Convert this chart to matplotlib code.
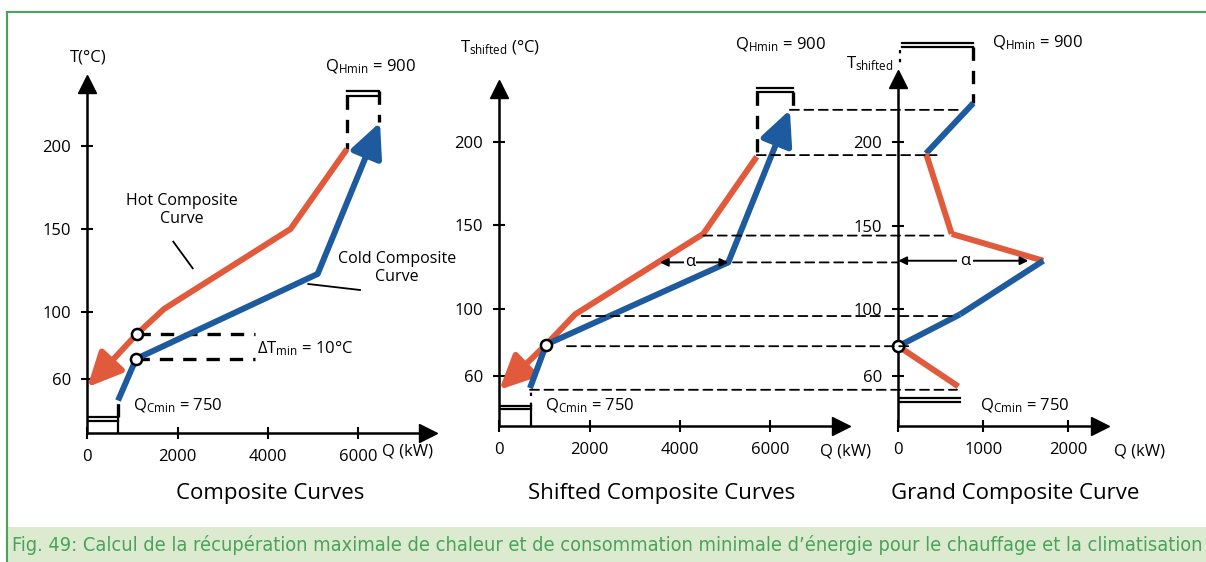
import matplotlib
matplotlib.use('Agg')
import matplotlib.pyplot as plt
from matplotlib import font_manager
from matplotlib.patches import ConnectionPatch, Rectangle
from matplotlib.lines import Line2D

plt.rcParams['font.family'] = ['Open Sans', 'DejaVu Sans']
plt.rcParams['mathtext.fontset'] = 'custom'
plt.rcParams['mathtext.rm'] = 'Open Sans'
plt.rcParams['mathtext.it'] = 'Open Sans:italic'
plt.rcParams['mathtext.bf'] = 'Open Sans:bold'

RED = '#e05a3b'
BLUE = '#1d5b9e'
GREEN = '#4aa35a'

# ---------------- data ----------------
# Panel 1: composite curves (Q in kW, T in degC)
hot_Q = [0, 1100, 1700, 4500, 5750]
hot_T = [55, 87, 102, 150, 198]
cold_Q = [680, 1080, 5100, 6480]
cold_T = [47, 72, 123, 214]
p1_xticks = [0, 2000, 4000, 6000]
p1_yticks = [60, 100, 150, 200]

# Panel 2: shifted composite curves
shot_Q = [0, 1040, 1680, 4520, 5705]
shot_T = [52, 79, 97, 145, 191]
scold_Q = [680, 1040, 5075, 6440]
scold_T = [53, 79, 128, 219]
p2_xticks = [0, 2000, 4000, 6000]
p2_yticks = [60, 100, 150, 200]

# Panel 3: grand composite curve
gcc_Q = [882, 326, 628, 1706, 726, 0, 706]
gcc_T = [223, 193, 145, 129, 97, 78, 54]
gcc_seg_colors = [BLUE, RED, RED, BLUE, BLUE, RED]
p3_xticks = [0, 1000, 2000]
p3_yticks = [60, 100, 150, 200]

# temperature interval lines (shifted T), start Q in panel 2, end Q in panel 3
lev_T = [219, 192, 144, 128, 96, 78, 52]
lev_Q2 = [6440, 5705, 4521, 5180, 1826, 1500, 680]
lev_Q3 = [700, 450, 590, 0, 640, 170, 690]

QHmin = 900
QCmin = 750
dTmin = 10

CAPTION = ("Fig. 49: Calcul de la récupération maximale de chaleur et de consommation minimale "
           "d’énergie pour le chauffage et la climatisation")

# ---------------- figure ----------------
W, H = 1206, 562
fig = plt.figure(figsize=(W / 100, H / 100), dpi=100)
fig.patch.set_facecolor('white')


def fx(x):
    return x / W


def fy(y):
    return 1 - y / H


def ftext(x, y, s, **kw):
    kw.setdefault('ha', 'center')
    kw.setdefault('va', 'center')
    return fig.text(fx(x), fy(y), s, **kw)


# frame and caption band
fig.add_artist(Line2D([fx(7), 1], [fy(12), fy(12)], color=GREEN, lw=1.5))
fig.add_artist(Line2D([fx(7), fx(7)], [fy(12), 0], color=GREEN, lw=1.5))
fig.add_artist(Rectangle((fx(8), 0), 1 - fx(8), fy(527), color='#dcebd0', lw=0))

# pick a condensed font for the caption if one is installed
cap_kw = dict(color=GREEN, ha='left', va='center')
fonts = font_manager.fontManager.ttflist
names = {f.name for f in fonts}
if 'Liberation Sans Narrow' in names:
    cap_kw['family'] = ['Liberation Sans Narrow', 'DejaVu Sans']
elif any(f.name == 'DejaVu Sans' and 'ondensed' in f.fname for f in fonts):
    cap_kw['family'] = ['DejaVu Sans']
    cap_kw['fontstretch'] = 'condensed'
else:
    cap_kw['family'] = ['Lato', 'DejaVu Sans']
cap = fig.text(fx(12), fy(545), CAPTION, fontsize=15, **cap_kw)
renderer = fig.canvas.get_renderer()
wpx = cap.get_window_extent(renderer).width
cap.set_fontsize(min(16.0, 15 * 1190 / wpx))


def make_ax(left, right, bottom, top, xlim, ylim, xticks, yticks):
    ax = fig.add_axes([fx(left), fy(bottom), (right - left) / W, (bottom - top) / H])
    ax.patch.set_visible(False)
    ax.set_xlim(*xlim)
    ax.set_ylim(*ylim)
    for s in ('top', 'right'):
        ax.spines[s].set_visible(False)
    for s in ('left', 'bottom'):
        ax.spines[s].set_linewidth(1.8)
    ax.set_xticks(xticks)
    ax.set_xticklabels([str(t) for t in xticks])
    ax.set_yticks(yticks)
    ax.set_yticklabels([str(t) for t in yticks])
    ax.tick_params(direction='inout', length=9, width=1.5, labelsize=12, pad=7)
    ax.plot(1, 0, '>', color='k', ms=13, transform=ax.transAxes, clip_on=False)
    ax.plot(0, 1, '^', color='k', ms=13, transform=ax.transAxes, clip_on=False)
    return ax


def curve(ax, Q, T, color):
    ax.plot(Q[:-1], T[:-1], color=color, lw=4.3, solid_joinstyle='miter', solid_capstyle='butt', zorder=3)
    ax.annotate('', xy=(Q[-1], T[-1]), xytext=(Q[-2], T[-2]),
                arrowprops=dict(arrowstyle='-|>,head_length=0.95,head_width=0.45', color=color,
                                lw=4.3, mutation_scale=22, shrinkA=0, shrinkB=0), zorder=3)


def circle(ax, q, t):
    ax.plot(q, t, 'o', mfc='white', mec='k', ms=8, mew=1.8, zorder=6, clip_on=False)


DASH_THICK = dict(color='k', lw=2.4, ls=(0, (4, 3)), clip_on=False)

# ---------- Panel 1 ----------
ax1 = make_ax(87.3, 428, 432.7, 84, (0, 7543), (27.7, 237), p1_xticks, p1_yticks)
curve(ax1, hot_Q[::-1], hot_T[::-1], RED)
curve(ax1, cold_Q, cold_T, BLUE)
circle(ax1, hot_Q[1], hot_T[1])
circle(ax1, cold_Q[1], cold_T[1])
ax1.plot([hot_Q[1], 3720], [hot_T[1], hot_T[1]], **DASH_THICK)
ax1.plot([cold_Q[1], 3720], [cold_T[1], cold_T[1]], **DASH_THICK)
# QHmin bracket
ax1.plot([hot_Q[-1], cold_Q[-1] - 30], [233, 233], color='k', lw=1.6, clip_on=False)
ax1.plot([hot_Q[-1], cold_Q[-1] - 30], [230, 230], color='k', lw=1.6, clip_on=False)
ax1.plot([hot_Q[-1], hot_Q[-1]], [230, hot_T[-1]], **DASH_THICK)
ax1.plot([cold_Q[-1] - 30, cold_Q[-1] - 30], [233, cold_T[-1]], **DASH_THICK)
# QCmin bracket
ax1.plot([0, cold_Q[0]], [37.3, 37.3], color='k', lw=1.6)
ax1.plot([0, cold_Q[0]], [34.9, 34.9], color='k', lw=1.6)
ax1.plot([cold_Q[0], cold_Q[0]], [27.7, 37.3], color='k', lw=1.6)
ax1.plot([cold_Q[0], cold_Q[0]], [37.3, cold_T[0]], **DASH_THICK)

ftext(88, 57, 'T(°C)', fontsize=12)
ftext(370, 67, r'$\mathregular{Q_{Hmin}}$ = %d' % QHmin, fontsize=12)
ftext(182, 210, 'Hot Composite\nCurve', fontsize=11.5, linespacing=1.1)
ftext(397, 268, 'Cold Composite\nCurve', fontsize=11.5, linespacing=1.1)
ftext(257, 349, r'$\mathregular{ΔT_{min}}$ = %d°C' % dTmin, fontsize=12, ha='left')
ftext(133, 406, r'$\mathregular{Q_{Cmin}}$ = %d' % QCmin, fontsize=12, ha='left')
ftext(407, 451, 'Q (kW)', fontsize=12)
ftext(270, 494, 'Composite Curves', fontsize=16)
fig.add_artist(Line2D([fx(173.3), fx(192.7)], [fy(241.7), fy(268.3)], color='k', lw=1.3))
fig.add_artist(Line2D([fx(308.3), fx(360)], [fy(284), fy(290)], color='k', lw=1.3))

# ---------- Panel 2 ----------
ax2 = make_ax(499.3, 841.3, 426, 88.7, (0, 7580), (30.4, 231.6), p2_xticks, p2_yticks)
curve(ax2, shot_Q[::-1], shot_T[::-1], RED)
curve(ax2, scold_Q, scold_T, BLUE)
circle(ax2, shot_Q[1], shot_T[1])
ax2.plot([shot_Q[-1], scold_Q[-1] + 60], [232, 232], color='k', lw=1.6, clip_on=False)
ax2.plot([shot_Q[-1], scold_Q[-1] + 60], [229.8, 229.8], color='k', lw=1.6, clip_on=False)
ax2.plot([shot_Q[-1], shot_Q[-1]], [229.8, shot_T[-1]], **DASH_THICK)
ax2.plot([scold_Q[-1] + 60, scold_Q[-1] + 60], [229.8, scold_T[-1]], **DASH_THICK)
ax2.plot([0, scold_Q[0] + 17], [42.3, 42.3], color='k', lw=1.6)
ax2.plot([0, scold_Q[0] + 17], [40.3, 40.3], color='k', lw=1.6)
ax2.plot([scold_Q[0] + 17] * 2, [30.4, 42.3], color='k', lw=1.6)
ax2.plot([scold_Q[0] + 17] * 2, [42.3, 51], color='k', lw=1.6, ls=(0, (1.5, 3)))
ax2.annotate('', xy=(3560, scold_T[2]), xytext=(scold_Q[2], scold_T[2]),
             arrowprops=dict(arrowstyle='<|-|>', color='k', lw=1.4, mutation_scale=12, shrinkA=0, shrinkB=0))
ax2.text(4230, scold_T[2], 'α', ha='center', va='center', fontsize=12,
         bbox=dict(facecolor='white', edgecolor='none', pad=0.5), zorder=5)

ftext(500, 48, r'$\mathregular{T_{shifted}}$ (°C)', fontsize=12)
ftext(780, 45, r'$\mathregular{Q_{Hmin}}$ = %d' % QHmin, fontsize=12)
ftext(545, 406, r'$\mathregular{Q_{Cmin}}$ = %d' % QCmin, fontsize=12, ha='left')
ftext(845, 451, 'Q (kW)', fontsize=12)
ftext(662, 494, 'Shifted Composite Curves', fontsize=16)

# ---------- Panel 3 ----------
ax3 = make_ax(898.3, 1099.7, 426, 78.7, (0, 2369), (30.4, 237.6), p3_xticks, p3_yticks)
for i, c in enumerate(gcc_seg_colors):
    ax3.plot(gcc_Q[i:i + 2], gcc_T[i:i + 2], color=c, lw=4.3, solid_capstyle='butt', zorder=3)
circle(ax3, gcc_Q[5], gcc_T[5])
ax3.plot([40, gcc_Q[0]], [259, 259], color='k', lw=1.6, clip_on=False)
ax3.plot([40, gcc_Q[0]], [256.7, 256.7], color='k', lw=1.6, clip_on=False)
ax3.plot([gcc_Q[0], gcc_Q[0]], [256.7, gcc_T[0]], **DASH_THICK)
ax3.plot([20, 20], [255, 246], color='k', lw=1.6, ls=(0, (1.5, 2.5)), clip_on=False)
ax3.plot([20, 730], [46.9, 46.9], color='k', lw=1.6)
ax3.plot([20, 730], [44.7, 44.7], color='k', lw=1.6)
ax3.annotate('', xy=(0, gcc_T[3]), xytext=(1530, gcc_T[3]),
             arrowprops=dict(arrowstyle='<|-|>', color='k', lw=1.4, mutation_scale=12, shrinkA=0, shrinkB=0))
ax3.text(785, gcc_T[3], 'α', ha='center', va='center', fontsize=12,
         bbox=dict(facecolor='white', edgecolor='none', pad=2), zorder=5)

ftext(870, 64, r'$\mathregular{T_{shifted}}$', fontsize=12)
ftext(1037, 43, r'$\mathregular{Q_{Hmin}}$ = %d' % QHmin, fontsize=12)
ftext(1025, 406, r'$\mathregular{Q_{Cmin}}$ = %d' % QCmin, fontsize=12)
ftext(1140, 451, 'Q (kW)', fontsize=12)
ftext(1015, 494, 'Grand Composite Curve', fontsize=16)

# interval lines linking panels 2 and 3
for t, q2, q3 in zip(lev_T, lev_Q2, lev_Q3):
    con = ConnectionPatch(xyA=(q2, t), coordsA=ax2.transData, xyB=(q3, t), coordsB=ax3.transData,
                          color='k', lw=1.3, ls=(0, (5, 3)), zorder=2)
    fig.add_artist(con)

fig.savefig('out.png', dpi=100)
